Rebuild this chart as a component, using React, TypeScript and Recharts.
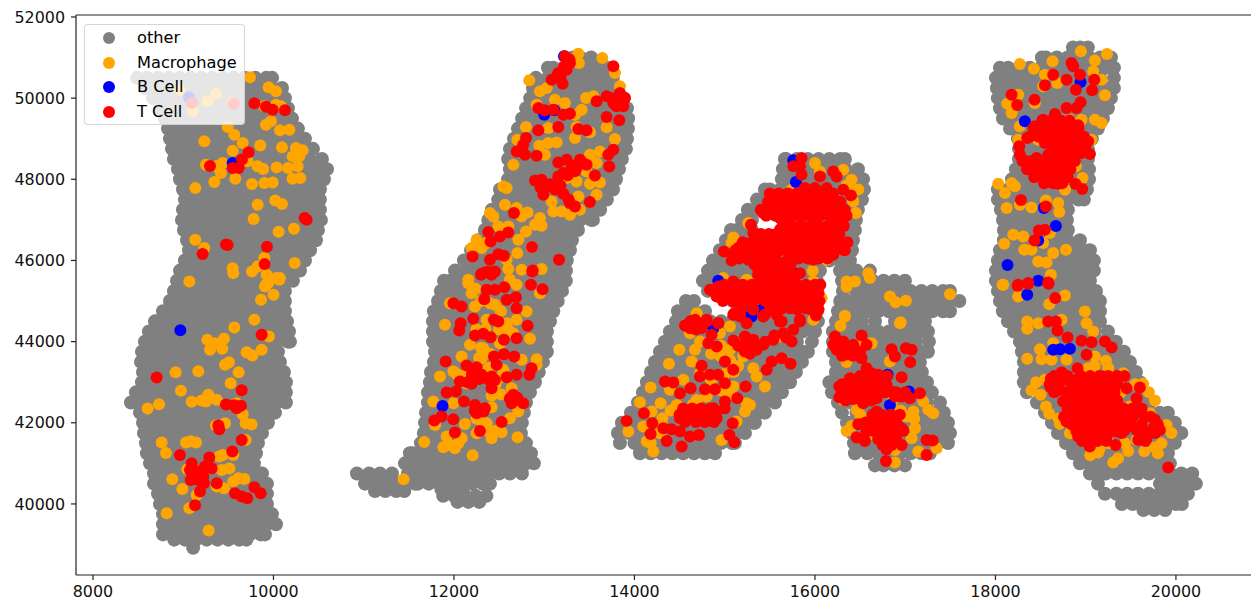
import React from "react";
import { ScatterChart, Scatter, XAxis, YAxis, ReferenceLine, Legend } from "recharts";

const xTicks = [8000, 10000, 12000, 14000, 16000, 18000, 20000];
const yTicks = [40000, 42000, 44000, 46000, 48000, 50000, 52000];

// each row: y, then the x of the cells read along that row
const otherLeftTissue = [
[50500,8490,8600,8720,8840,8960,9080,9200,9320,9440,9560,9680,9800,9920,9985],
[50250,8575,8660,8780,8900,9020,9140,9260,9380,9500,9620,9740,9860,9980,10095],
[50000,8665,8720,8840,8960,9080,9200,9320,9440,9560,9680,9800,9920,10040,10127],
[49750,8742,8780,8900,9020,9140,9260,9380,9500,9620,9740,9860,9980,10100,10160],
[49500,8798,8840,8960,9080,9200,9320,9440,9560,9680,9800,9920,10040,10160,10205],
[49250,8831,8900,9020,9140,9260,9380,9500,9620,9740,9860,9980,10100,10220,10271],
[49000,8853,8960,9080,9200,9320,9440,9560,9680,9800,9920,10040,10160,10280,10349],
[48750,8875,8900,9020,9140,9260,9380,9500,9620,9740,9860,9980,10100,10220,10340,10438],
[48500,8897,8960,9080,9200,9320,9440,9560,9680,9800,9920,10040,10160,10280,10400,10537],
[48250,8942,9020,9140,9260,9380,9500,9620,9740,9860,9980,10100,10220,10340,10460,10593],
[48000,8964,9080,9200,9320,9440,9560,9680,9800,9920,10040,10160,10280,10400,10520,10559],
[47750,8997,9020,9140,9260,9380,9500,9620,9740,9860,9980,10100,10220,10340,10460,10515],
[47500,9019,9080,9200,9320,9440,9560,9680,9800,9920,10040,10160,10280,10400,10515],
[47250,8997,9020,9140,9260,9380,9500,9620,9740,9860,9980,10100,10220,10340,10460,10515],
[47000,8986,9080,9200,9320,9440,9560,9680,9800,9920,10040,10160,10280,10400,10526],
[46750,9008,9020,9140,9260,9380,9500,9620,9740,9860,9980,10100,10220,10340,10460,10493],
[46500,9042,9080,9200,9320,9440,9560,9680,9800,9920,10040,10160,10280,10400,10471],
[46250,9064,9140,9260,9380,9500,9620,9740,9860,9980,10100,10220,10340,10405],
[46000,9019,9080,9200,9320,9440,9560,9680,9800,9920,10040,10160,10280,10349],
[45750,8964,9020,9140,9260,9380,9500,9620,9740,9860,9980,10100,10220,10294],
[45500,8931,8960,9080,9200,9320,9440,9560,9680,9800,9920,10040,10160,10216],
[45250,8897,9020,9140,9260,9380,9500,9620,9740,9860,9980,10100,10127],
[45000,8853,8960,9080,9200,9320,9440,9560,9680,9800,9920,10040,10127],
[44750,8776,8900,9020,9140,9260,9380,9500,9620,9740,9860,9980,10100,10127],
[44500,8687,8720,8840,8960,9080,9200,9320,9440,9560,9680,9800,9920,10040,10150],
[44250,8620,8660,8780,8900,9020,9140,9260,9380,9500,9620,9740,9860,9980,10100,10172],
[44000,8576,8600,8720,8840,8960,9080,9200,9320,9440,9560,9680,9800,9920,10040,10160,10183],
[43750,8543,8660,8780,8900,9020,9140,9260,9380,9500,9620,9740,9860,9980,10050],
[43500,8532,8600,8720,8840,8960,9080,9200,9320,9440,9560,9680,9800,9920,10040,10072],
[43250,8554,8660,8780,8900,9020,9140,9260,9380,9500,9620,9740,9860,9980,10100,10116],
[43000,8543,8600,8720,8840,8960,9080,9200,9320,9440,9560,9680,9800,9920,10040,10138],
[42750,8476,8540,8660,8780,8900,9020,9140,9260,9380,9500,9620,9740,9860,9980,10100,10138],
[42500,8421,8480,8600,8720,8840,8960,9080,9200,9320,9440,9560,9680,9800,9920,10040,10138],
[42250,8521,8660,8780,8900,9020,9140,9260,9380,9500,9620,9740,9860,9980,10017],
[42000,8554,8600,8720,8840,8960,9080,9200,9320,9440,9560,9680,9800,9920,9939],
[41750,8565,8660,8780,8900,9020,9140,9260,9380,9500,9620,9740,9860,9873],
[41500,8587,8720,8840,8960,9080,9200,9320,9440,9560,9680,9800,9828],
[41250,8598,8660,8780,8900,9020,9140,9260,9380,9500,9620,9740,9806],
[41000,8632,8720,8840,8960,9080,9200,9320,9440,9560,9680,9784],
[40750,8676,8780,8900,9020,9140,9260,9380,9500,9620,9740,9860,9873],
[40500,8676,8720,8840,8960,9080,9200,9320,9440,9560,9680,9800,9928],
[40250,8720,8780,8900,9020,9140,9260,9380,9500,9620,9740,9860,9928],
[40000,8742,8840,8960,9080,9200,9320,9440,9560,9680,9800,9928],
[39750,8776,8900,9020,9140,9260,9380,9500,9620,9740,9860,9983],
[39500,8776,8840,8960,9080,9200,9320,9440,9560,9680,9800,9920,10028],
[39250,8776,8900,9020,9140,9260,9380,9500,9620,9740,9860,9906],
[39120,8900,9020,9140,9260,9380,9500,9620,9700],
[38920,9110],
];

const otherSecondTissue = [
[51000,13318,13400,13520],
[50750,13041,13100,13220,13340,13460,13580,13700],
[50500,12908,13040,13160,13280,13400,13520,13640,13760],
[50250,12875,12980,13100,13220,13340,13460,13580,13700,13820],
[50000,12845,12920,13040,13160,13280,13400,13520,13640,13760,13880],
[49750,12800,12860,12980,13100,13220,13340,13460,13580,13700,13820,13917],
[49500,12755,12800,12920,13040,13160,13280,13400,13520,13640,13760,13880,13930],
[49250,12709,12740,12860,12980,13100,13220,13340,13460,13580,13700,13820,13928],
[49000,12665,12680,12800,12920,13040,13160,13280,13400,13520,13640,13760,13880,13917],
[48750,12620,12740,12860,12980,13100,13220,13340,13460,13580,13700,13820,13906],
[48500,12600,12680,12800,12920,13040,13160,13280,13400,13520,13640,13760,13861],
[48250,12620,12740,12860,12980,13100,13220,13340,13460,13580,13700,13828],
[48000,12600,12680,12800,12920,13040,13160,13280,13400,13520,13640,13760,13795],
[47750,12510,12620,12740,12860,12980,13100,13220,13340,13460,13580,13700,13762],
[47500,12490,12560,12680,12800,12920,13040,13160,13280,13400,13520,13640,13695],
[47250,12420,12500,12620,12740,12860,12980,13100,13220,13340,13460,13580,13620],
[47000,12380,12440,12560,12680,12800,12920,13040,13160,13280,13400,13520,13540],
[46750,12343,12380,12500,12620,12740,12860,12980,13100,13220,13340,13374],
[46500,12265,12320,12440,12560,12680,12800,12920,13040,13160,13280,13307],
[46250,12190,12260,12380,12500,12620,12740,12860,12980,13100,13220,13285],
[46000,12110,12200,12320,12440,12560,12680,12800,12920,13040,13160,13250],
[45750,12011,12140,12260,12380,12500,12620,12740,12860,12980,13100,13220,13241],
[45500,11890,11960,12080,12200,12320,12440,12560,12680,12800,12920,13040,13160,13240],
[45250,11855,11900,12020,12140,12260,12380,12500,12620,12740,12860,12980,13100,13197],
[45000,11823,11840,11960,12080,12200,12320,12440,12560,12680,12800,12920,13040,13150],
[44750,11778,11900,12020,12140,12260,12380,12500,12620,12740,12860,12980,13100],
[44500,11767,11840,11960,12080,12200,12320,12440,12560,12680,12800,12920,13040,13064],
[44250,11767,11900,12020,12140,12260,12380,12500,12620,12740,12860,12980,13030],
[44000,11767,11840,11960,12080,12200,12320,12440,12560,12680,12800,12920,13030],
[43750,11789,11900,12020,12140,12260,12380,12500,12620,12740,12860,12980,13030],
[43500,11778,11840,11960,12080,12200,12320,12440,12560,12680,12800,12920,12986],
[43250,11745,11780,11900,12020,12140,12260,12380,12500,12620,12740,12860,12940],
[43000,11734,11840,11960,12080,12200,12320,12440,12560,12680,12800,12897],
[42750,11712,11780,11900,12020,12140,12260,12380,12500,12620,12740,12842],
[42500,11712,11840,11960,12080,12200,12320,12440,12560,12680,12798],
[42250,11690,11780,11900,12020,12140,12260,12380,12500,12620,12740,12775],
[42000,11679,11720,11840,11960,12080,12200,12320,12440,12560,12680,12753],
[41750,11667,11780,11900,12020,12140,12260,12380,12500,12620,12742],
[41500,11634,11720,11840,11960,12080,12200,12320,12440,12560,12680,12798],
[41250,11512,11540,11660,11780,11900,12020,12140,12260,12380,12500,12620,12740,12853],
[41000,11457,11480,11600,11720,11840,11960,12080,12200,12320,12440,12560,12680,12800,12886],
[40750,10925,11060,11180,11313,11490,11540,11660,11780,11900,12020,12140,12260,12380,12500,12620,12753],
[40500,11014,11120,11240,11360,11435,11568,11600,11720,11840,11960,12080,12200,12320,12399],
[40320,11125,11240,11360,11450],
[40370,11860,11980,12100],
[40200,11880,12000,12120,12240,12360],
[40050,12040,12160,12280],
];

const otherThirdTissue = [
[48500,15667,15680,15800,15920,16040,16160,16280,16332],
[48250,15645,15740,15860,15980,16100,16220,16340,16476],
[48000,15634,15680,15800,15920,16040,16160,16280,16400,16532],
[47750,15446,15500,15620,15740,15860,15980,16100,16220,16340,16460,16543],
[47500,15357,15440,15560,15680,15800,15920,16040,16160,16280,16400,16521],
[47250,15257,15380,15500,15620,15740,15860,15980,16100,16220,16340,16476],
[47000,15191,15302,15656,15680,15800,15920,16040,16160,16280,16400,16454],
[46750,15069,15140,15260,15302,15656,15740,15860,15980,16100,16220,16340,16443],
[46500,15014,15080,15200,15320,15440,15560,15680,15800,15920,16040,16160,16280,16421],
[46250,14947,15020,15140,15260,15380,15500,15620,15740,15860,15980,16100,16220,16340,16410],
[46000,14870,14960,15080,15200,15320,15440,15560,15680,15800,15920,16040,16160,16280,16388],
[45750,14814,14900,15020,15140,15260,15380,15500,15620,15740,15860,15980,16055,16277,16340,16460,16609],
[45500,14759,14840,14960,15080,15200,15320,15440,15560,15680,15800,15920,16022,16299,16400,16520,16640,16760,16880,16997],
[45250,14814,14900,15020,15140,15260,15380,15500,15620,15740,15860,15980,16000,16310,16460,16580,16700,16820,16940,17060,17180,17300,17420,17496],
[45000,14570,14660,15091,15200,15320,15440,15560,15680,15800,15920,16033,16280,16400,16520,16640,16760,16880,17000,17120,17240,17360,17480,17600],
[44750,14482,14540,14660,14781,15147,15260,15380,15500,15620,15740,15860,15980,16022,16255,16340,16460,16580,16700,16820,16940,17060,17180,17300,17420,17496],
[44500,14460,14600,14720,14840,14960,15080,15200,15320,15440,15560,15680,15800,15920,16033,16233,16280,16400,16520,16665,16887,17000,17120,17219],
[44250,14393,14420,14540,14660,14780,14900,15020,15140,15260,15380,15500,15620,15740,15860,15980,16000,16199,16340,16460,16580,16700,16820,16940,17060,17180,17252],
[44000,14338,14360,14480,14600,14720,14840,14960,15080,15200,15320,15440,15560,15680,15800,15967,16199,16280,16400,16520,16640,16760,16880,17000,17120,17263],
[43750,14282,14420,14540,14660,14780,14900,15020,15140,15260,15380,15500,15620,15740,15860,15922,16199,16340,16460,16580,16700,16820,16940,17060,17180,17252],
[43500,14227,14360,14480,14600,14720,14840,14960,15080,15200,15320,15440,15560,15680,15800,15856,16232,16280,16400,16520,16640,16760,16880,17000,17120,17163],
[43250,14183,14300,14420,14540,14660,14780,14900,15020,15140,15260,15380,15500,15620,15740,15789,16232,16340,16460,16580,16700,16820,16940,17060,17185],
[43000,14138,14240,14360,14480,14600,14720,14840,14960,15080,15200,15320,15440,15560,15680,15723,16160,16280,16400,16520,16640,16760,16880,17000,17120,17241],
[42750,14094,14180,14300,14420,14540,14660,14780,14900,15020,15140,15260,15380,15500,15620,15634,16188,16340,16460,16580,16700,16820,16940,17060,17180,17296],
[42500,14039,14120,14240,14360,14480,14600,14720,14840,14960,15080,15200,15320,15440,15557,16255,16400,16520,16640,16760,16880,17000,17120,17240,17385],
[42250,13961,14060,14180,14300,14420,14540,14660,14780,14900,15020,15140,15260,15380,15446,16299,16460,16580,16700,16820,16940,17060,17180,17300,17429],
[42000,13861,14000,14120,14240,14360,14480,14600,14720,14840,14960,15080,15200,15320,15335,16354,16400,16520,16640,16760,16880,17000,17120,17240,17360,17474],
[41750,13817,13940,14060,14180,14300,14420,14540,14660,14780,14900,15020,15140,15224,16410,16460,16580,16700,16820,16940,17060,17180,17300,17420,17496],
[41500,13839,14000,14120,14240,14360,14480,14600,14720,14840,14960,15080,15113,16432,16520,16640,16760,16880,17000,17120,17240,17360,17474],
[41250,14061,14180,14300,14420,14540,14660,14780,14892,16443,16580,16700,16820,16940,17060,17180,17274],
[40950,16665,16760,16880,16997],
];

const otherFourthTissue = [
[51250,18859,18940,19024],
[51000,18515,18560,18680,18800,18920,19040,19160,19280],
[50750,18050,18140,18260,18380,18500,18620,18740,18860,18980,19100,19220,19313],
[50500,18005,18080,18200,18320,18440,18560,18680,18800,18920,19040,19160,19313],
[50250,18016,18140,18260,18380,18500,18620,18740,18860,18980,19100,19220,19313],
[50000,18027,18080,18200,18320,18440,18560,18680,18800,18920,19040,19160,19279],
[49750,18050,18140,18260,18380,18500,18620,18740,18860,18980,19100,19220,19246],
[49500,18083,18200,18320,18440,18560,18680,18800,18920,19040,19160,19191],
[49250,18161,18260,18380,18500,18620,18740,18860,18980,19100,19135],
[49000,18249,18320,18440,18560,18680,18800,18920,19040,19069],
[48750,18260,18380,18500,18620,18740,18860,18980,19025],
[48500,18260,18320,18440,18560,18680,18800,18920,19025],
[48250,18227,18380,18500,18620,18740,18860,18980,19036],
[48000,18183,18200,18320,18440,18560,18680,18800,18920,19036],
[47750,18027,18140,18260,18380,18500,18620,18740,18860,18980,19014],
[47500,18027,18080,18200,18320,18440,18560,18680,18800,18920,18980],
[47250,18060,18140,18260,18380,18500,18620,18740,18803],
[47000,18083,18200,18320,18440,18560,18680,18792],
[46750,18094,18140,18260,18380,18500,18620,18740,18803],
[46500,18094,18200,18320,18440,18560,18680,18800,18936],
[46250,18050,18140,18260,18380,18500,18620,18740,18860,18980,19047],
[46000,18027,18080,18200,18320,18440,18560,18680,18800,18920,19040,19091],
[45750,18005,18140,18260,18380,18500,18620,18740,18860,18980,19091],
[45500,18005,18080,18200,18320,18440,18560,18680,18800,18920,19047],
[45250,18027,18140,18260,18380,18500,18620,18740,18860,18980,19114],
[45000,18050,18080,18200,18320,18440,18560,18680,18800,18920,19040,19158],
[44750,18083,18140,18260,18380,18500,18620,18740,18860,18980,19100,19158],
[44500,18138,18200,18320,18440,18560,18680,18800,18920,19040,19158],
[44250,18205,18260,18380,18500,18620,18740,18860,18980,19100,19246],
[44000,18271,18320,18440,18560,18680,18800,18920,19040,19160,19280,19335],
[43750,18293,18380,18500,18620,18740,18860,18980,19100,19220,19340,19424],
[43500,18315,18440,18560,18680,18800,18920,19040,19160,19280,19400,19490],
[43250,18315,18380,18500,18620,18740,18860,18980,19100,19220,19340,19460,19557],
[43000,18315,18440,18560,18680,18800,18920,19040,19160,19280,19400,19520,19601],
[42750,18349,18500,18620,18740,18860,18980,19100,19220,19340,19460,19580,19634],
[42500,18460,18560,18680,18800,18920,19040,19160,19280,19400,19520,19640,19712],
[42250,18548,18620,18740,18860,18980,19100,19220,19340,19460,19580,19700,19820,19911],
[42000,18626,18680,18800,18920,19040,19160,19280,19400,19520,19640,19760,19880,19988],
[41750,18692,18740,18860,18980,19100,19220,19340,19460,19580,19700,19820,19940,20060],
[41500,18781,18800,18920,19040,19160,19280,19400,19520,19640,19760,19880,19988],
[41250,18859,18980,19100,19220,19340,19460,19580,19700,19820,19911],
[41000,18936,19040,19160,19280,19400,19520,19640,19760,19880,19933],
[40750,19047,19100,19220,19340,19460,19580,19700,19820,19940,20060,20180],
[40500,19136,19823,19880,20000,20120,20221],
[40250,19213,19340,19460,19580,19700,19820,19940,20060,20133],
[40000,19401,19520,19640,19760,19880,20000,20066],
[39850,19640,19760,19880],
];

const macrophageLeft = [
[9740,50513],[9947,50267],[10028,50168],[10028,49839],[9899,49798],[10083,49798],[8964,50209],[9105,49675],[9271,49921],[9363,50110],[9548,49880],[9492,49289],[9566,49099],[9659,48894],[9234,48935],[9548,48705],[9854,48836],[10094,48787],[10249,48771],[10323,48713],[10212,48565],[10286,48565],[9917,49346],[9972,49428],[10072,49206],[10176,49223],[9714,48442],[9437,48401],[9363,48319],[9252,48360],[9418,48154],[9345,47932],[9577,48014],[9762,47883],[9825,48319],[9887,48253],[10035,48294],[10161,48278],[10268,48319],[10212,48014],[10297,48031],[9899,47908],[9991,47924],[9134,47784],[10020,47480],[10094,47390],[9825,47373],[9780,47020],[10057,46708],[10227,46782],[9134,46510],[9234,46305],[9899,46058],[9548,45811],[9555,45688],[9762,45729],[9825,45853],[10235,45935],[9924,45647],[10028,45565],[10072,45565],[9068,45483],[9917,45400],
[9906,45360],[9943,45442],[10000,45154],[9862,45031],[10065,45524],[9788,44538],[9566,44349],[9950,44127],[9267,44044],[9452,44069],[9352,43962],[9297,43798],[9433,43822],[9869,43798],[9703,43740],[9766,43658],[9463,43428],[9507,43494],[9614,43247],[8916,43247],[9167,43272],[9526,42976],[8975,42787],[9094,42516],[9204,42548],[9278,42688],[9252,42524],[9371,42565],[8732,42458],[8606,42351],[9592,42483],[9659,42211],[9692,41989],[9758,41957],[9463,41989],[9363,41932],[8761,41512],[9031,41512],[9083,41545],[9142,41512],[8809,41258],[9692,41578],[9555,41208],[9400,41167],[9437,41208],[9046,40855],[9426,40839],[9511,40871],[8879,40608],[8990,40370],[9149,40222],[9371,40428],[9452,40387],[9555,40551],[9611,40633],[9677,40617],[9068,39893],[8817,39770],[9282,39343],
];

const macrophageSecond = [
[13378,51097],[13385,50867],[13644,50990],[13784,50620],[12835,50439],[12953,50168],[13027,50250],[13119,49962],[13230,49880],[13463,50003],[13544,50045],[13839,50291],[12916,49839],[13415,49716],[13341,49592],[12798,49288],[12702,48976],[13045,49264],[13138,48910],[13045,48894],[12946,48828],[13008,48606],[12658,48359],[13784,48992],[13692,49280],[13359,49288],[13341,49017],[13507,49157],[13618,48688],[13507,48606],[13581,48401],[13470,48195],[13359,47948],[13249,48031],[13507,47891],[13618,47924],[13378,47579],[13581,47620],[12547,47825],[12584,47784],[13082,47455],[13101,47209],[13193,47209],[13285,47127],[13396,47250],[12565,47373],[12399,47168],[12436,47085],[12695,47291],[12816,47184],[12750,47085],[12953,47044],[12971,46855],[12898,46880],[12798,46716],[12713,46510],[12602,46839],[12491,46839],[12251,46510],[12196,46305],[12307,46305],[12362,46428],[12702,46181],[12584,46017],[12602,45787],[12750,45770],[12971,45787],[12159,45524],[12861,46329],
[12159,45441],[12196,45195],[12233,44866],[12399,44948],[12620,45523],[12694,45400],[12953,45195],[11956,44948],[11900,44414],[12362,44537],[12584,44455],[12694,44537],[12805,44742],[12657,44208],[12842,44068],[12177,43920],[12325,43838],[12306,43592],[12085,43633],[12750,43551],[12916,43567],[11845,43140],[11993,43263],[12916,43427],[12547,43304],[12639,42852],[12417,42663],[11771,42523],[11993,42482],[12417,42383],[12713,42276],[12620,42112],[12122,41972],[12362,41989],[11919,41660],[12085,41619],[12417,41619],[12528,41767],[12705,41644],[11671,41528],[11882,41397],[12011,41372],[12207,41200],[11442,40608],[12251,41742],[11790,41948],[12140,42975],[12510,43962],
[12240,45300],[12300,45000],[12460,44900],[12520,44750],[12250,44300],[12350,44300],[12500,44300],[12600,44300],[12300,43850],[12400,43700],[12280,43600],[12380,43350],[12150,43250],[12030,43200],[12500,43100],[12460,42950],[12520,42700],[12250,42100],[12320,42000],[12380,41800],[12450,41800],[12050,41500],[11950,41450],
];

const macrophageThird = [
[16000,48401],[16055,48195],[16314,48236],[16406,47990],[15741,47743],[15797,47620],[16425,47456],[16454,47168],[15427,47250],[15261,46921],[15095,46568],[15077,46428],[15409,46469],[16351,45483],[16443,45483],[16591,45688],[16609,45565],[16831,45113],[16894,44973],[17008,45006],[17496,45170],[16332,44620],[16949,44480],[15974,45746],[15981,45483],[15243,45524],[14984,45565],[14689,44702],[16074,45072],[16129,46017],
[15058,44373],[14615,44208],[14947,44208],[14726,44003],[14497,43797],[14670,43797],[14382,43452],[14634,43510],[15058,43797],[15206,43633],[15317,43345],[14726,43222],[14541,43058],[15354,43140],[15446,42893],[14179,42869],[14394,42811],[15095,42893],[14061,42507],[14290,42482],[14190,42277],[14689,42564],[14467,42441],[14309,42112],[14098,41907],[13932,41784],[15243,42482],[15280,42441],[15224,42277],[15132,42030],[14135,41537],[14209,41290],[14966,41578],[15354,44866],[15982,44537],[16332,44636],[16284,44389],[16942,44455],[16628,43962],[16831,43510],[16406,41923],[17311,42236],[17256,42318],[17200,42523],[17090,42277],[17016,42153],[17108,41866],[17071,41619],[17348,41373],[17145,41290],[16886,41019],[16886,41331],[16665,41701],[16314,42564],[16462,42318],[16720,42811],[16572,42564],[14283,41742],[15612,44126],
[14960,43900],[14850,43700],[14950,43650],[15060,43550],[15150,43400],[15100,43250],[15000,43200],[14850,43050],[14950,42800],[14800,42650],[15050,42700],[14650,42450],[14400,42300],[14300,41950],[14180,41500],[16500,43900],[16350,43500],[16700,43050],[16850,42500],[16950,42300],[17100,42100],[16500,42200],[16350,41800],[16400,47700],[16480,47750],[16350,47850],[16350,45350],
];

const macrophageFourth = [
[18947,51155],[19235,51089],[18271,50842],[18426,50727],[18633,50908],[19102,50925],[19083,50662],[19176,50456],[18548,50579],[18685,50374],[19213,50070],[18529,50292],[18131,49864],[18252,50086],[18179,49634],[18271,49305],[18437,49881],[18954,49470],[19102,49470],[19176,49387],[18825,49470],[18252,48976],[18474,48976],[19065,48976],[18891,48319],[18965,48031],[18770,47743],[18031,47891],[18179,47908],[18105,47661],[18216,47826],[18123,47291],[18400,47308],[18271,47374],[18559,47480],[18696,47415],[18707,47193],[18197,46634],[18308,46593],[18097,46412],[18319,46264],[18400,46264],[18640,46182],[18781,46264],[18474,45976],[18566,45951],[18614,45647],[18079,45401],[18603,46675],[18529,46428],
[18086,45401],[18252,45113],[18596,44924],[18770,45138],[18991,44743],[18352,44497],[18352,44316],[18474,44455],[18733,44538],[19010,44455],[19083,44250],[18493,43814],[18352,43576],[18511,43568],[18621,43551],[18788,43551],[19102,43633],[19224,43527],[18640,43962],[19028,43346],[18500,42688],[18548,43058],[18596,42220],[18714,41973],[18825,41743],[19139,41266],[19305,41019],[19360,41126],[19471,41307],[19840,41496],[19767,42548],[19637,42959],[19416,43222],[19896,41948],[19250,41496],[19434,41496],[19564,41578],[19767,41389],[18788,43058],[19379,42729],[19490,42400],[19711,42236],[18936,43305],
[19100,43400],[19250,43350],[19400,43150],[19550,42950],[19700,42750],[18560,42400],[18700,42100],[19050,41200],[19150,41350],[19650,41300],[19950,41750],[19800,41250],[18450,43000],[18400,42800],
];

const bCells = [
[9064,50020],[9548,48401],[8968,44283],[13219,51031],[13000,49592],[13112,49699],[11874,42416],
[15760,48467],[15789,47932],[15797,45664],[14929,45499],[15427,46387],[15280,44620],[15409,44784],[14874,44332],[15298,44619],[15420,44784],[16805,43181],[17041,42770],[16831,42441],
[18943,50398],[18326,49428],[18537,47291],[18670,46847],[18474,46494],[18134,45886],[18474,45499],[18352,45154],[18640,43798],[18714,43814],[18825,43822],[19028,42524],[19545,42318],[19231,41866],
];

const tCellsLeft = [
[9788,49872],[9917,49790],[9991,49716],[10127,49700],[9297,48327],[9725,48664],[9651,48491],[9548,48278],[9614,48278],[9097,49880],[9559,49864],[10345,47045],[10368,47003],[9492,46379],[9474,46395],[9928,46338],[9215,46157],[9902,45910],
[9869,44168],[8706,43116],[9648,42803],[9474,42450],[9566,42433],[9592,42359],[9640,42417],[9389,41932],[9400,41841],[9648,41578],[9544,41291],[8964,41208],[9289,41143],[9094,41003],[9075,40839],[9149,40797],[9241,40921],[9315,40880],[9131,40674],[9223,40674],[9083,40592],[9230,40510],[9371,40510],[9186,40304],[9574,40263],[9648,40181],[9710,40140],[9788,40411],[9858,40263],[9131,39967],[9204,40797],[9167,40592],
];

const tCellsSecond = [
[13230,51031],[13285,50867],[13249,50702],[13156,50620],[13082,50456],[13204,50357],[13766,50784],[13839,50127],[13692,50045],[13581,49921],[13766,49880],[13876,49798],[13895,50003],[12935,49757],[13008,49699],[13101,49716],[13212,49592],[13285,49617],[13692,49535],[13832,49453],[13156,49288],[12935,49206],[13378,49239],[13470,49206],[12798,49017],[12768,48853],[12695,48688],[12787,48606],[12916,48581],[13766,48729],[13710,48606],[13721,48318],[13562,48096],[13156,48417],[13249,48483],[13396,48483],[13470,48359],[13304,48277],[13212,48154],[13156,48072],[12898,47973],[12971,47990],[13045,47825],[12990,47620],[13138,47907],[13212,47644],[13285,47414],[13341,47332],[13507,47439],[12665,47168],[12381,46699],[12406,46469],[12510,46592],[12602,46691],[12207,46099],[12399,46017],[12491,46156],[12554,46115],[12864,46329],[13164,46017],[12872,45754],[12307,45672],[12399,45688],[12454,45729],[13359,48277],[13322,48335],
[12325,45688],[12417,45647],[12868,45729],[12362,45277],[12454,45277],[12558,45343],[12853,45400],[12982,45293],[12336,45047],[12584,45030],[12687,45096],[12694,44825],[11993,44948],[12085,44866],[12214,44562],[12443,44537],[12491,44496],[12074,44455],[12059,44274],[12816,44389],[12233,44151],[12325,44192],[12406,44110],[12554,44044],[12694,44085],[12443,43633],[12554,43690],[12668,43633],[12473,43427],[11908,43510],[12140,43411],[12251,43370],[12860,43345],[12835,43181],[12694,43181],[12584,43123],[12196,43098],[12306,43181],[12417,43140],[12454,43057],[12066,43016],[12196,42959],[12417,42852],[11919,42745],[12022,42770],[12111,42523],[12657,42688],[12694,42564],[12768,42482],[12639,42482],[12233,42441],[12251,42235],[12325,42276],[12343,42359],[11863,42153],[11782,42055],[11993,42087],[12528,42022],[12011,41759],[12288,41800],
[13060,47880],[13120,47750],[13180,47850],[13260,48100],[13340,48200],[13420,48420],[12960,47800],[13270,47500],[12750,48750],[13850,49950],[13750,50000],[13800,49800],[13180,50500],[13140,50520],[13280,50950],[13220,50780],[12200,43200],[12280,43080],[12380,43070],[12150,43000],[12230,42300],[12290,42330],[12700,42620],[12620,42600],[12300,45650],[12370,45720],[12440,45720],
];

const tCellsThird = [
[15852,48524],[15760,48319],[15834,48319],[15852,48113],[16203,48195],[16240,48072],[16055,48072],[15889,47784],[16000,47784],[16129,47784],[16314,47743],[16399,47604],[16240,47456],[15557,47579],[15668,47415],[15427,47168],[15557,47291],[15723,47250],[15834,47373],[15981,47456],[16111,47373],[16277,47250],[16184,47168],[15612,47045],[15723,47004],[15852,47086],[16000,47004],[16203,47086],[16295,46880],[15291,46880],[15612,46757],[15723,46716],[15871,46798],[16018,46798],[16129,46634],[16240,46387],[16314,46264],[15317,46675],[15427,46551],[15538,46634],[15649,46469],[15797,46469],[15926,46510],[16092,46346],[16203,46140],[15981,46017],[15520,46017],[15668,45960],[15243,46387],[15354,46305],[15150,46305],[15095,46181],[14992,46223],[15077,46001],[15446,46223],[15594,46305],[15723,46305],[15871,46305],[15261,46017],[15834,45688],[15372,45770],[15501,45729],[15649,45688],[15409,45524],[15575,45483],[15095,45483],[14929,45360],[14837,45277],[14984,45236],[15077,45154],[15206,45236],[15335,45318],[15501,45318],[15668,45401],[15871,45318],[16018,45195],[14910,45113],[15095,44990],[15243,45031],[15391,45072],[15538,45113],[15704,45113],[15871,45072],[16018,44907],[15169,44620],[15317,44784],[15446,44661],[15575,44661],[15723,44825],[15889,44825],[16011,44644],[14800,44538],[14929,44455],[15095,44661],[15631,44496],[15834,44496],[15612,44990],[15760,44948],[15280,44907],[15501,46387],[15834,46716],[16055,46469],[16166,46387],[16092,46140],[15723,46099],
[14671,44537],[14615,44332],[14800,44496],[14929,44455],[14855,44167],[14818,43962],[14911,43880],[15095,44028],[15224,44126],[15317,44044],[15428,43921],[15538,44044],[15649,44208],[15760,44291],[15742,44003],[15224,43756],[15354,43797],[15465,43304],[15520,43510],[15631,43592],[15730,43452],[15003,43510],[15095,43304],[14744,43403],[14726,43140],[14837,43181],[14929,43181],[15003,42975],[14781,42827],[14892,42827],[14338,43016],[14430,42992],[14504,42729],[14622,42852],[15232,42893],[15139,42605],[15003,42523],[14874,42359],[14763,42277],[14652,42236],[14541,42195],[14504,42112],[14634,42112],[14800,42071],[14911,42112],[14105,42236],[13913,42047],[14198,41989],[15088,41989],[14320,41866],[14412,41841],[14504,41784],[14615,41660],[14715,41701],[14179,41726],[14357,41553],[14523,41414],[15051,41701],[15106,41520],[15243,44455],[15428,44619],[15612,44496],[15834,44537],[15169,44660],[15106,44702],
[16222,44126],[16203,43921],[16314,44003],[16425,43921],[16332,43674],[16517,44151],[16572,43921],[16517,43592],[16849,43814],[16886,43633],[17008,43838],[17071,43797],[17056,43493],[16572,43345],[16628,43222],[16388,43099],[16535,43058],[16702,43181],[16960,43123],[16270,42893],[16406,42852],[16535,42852],[16794,42934],[16270,42630],[16425,42589],[16535,42482],[16683,42605],[16886,42647],[16960,42647],[17052,42605],[17163,42729],[16683,42277],[16757,42112],[16831,41907],[16960,41866],[16480,41964],[16561,42005],[16462,41636],[16554,41553],[16572,41784],[16775,41743],[16868,41701],[16960,41455],[16794,41348],[17237,41578],[17304,41562],[17237,41208],[16787,41060],[16849,42770],[16794,41989],[16868,41989],[16757,41660],
];

// the solid red patches of the third tissue
const tCellsThirdPatches = [
[15500,47650],[15600,47650],[15700,47650],[15800,47650],[15900,47650],[16000,47650],[16100,47650],[16200,47650],
[15480,47450],[15570,47450],[15670,47450],[15770,47450],[15870,47450],[15970,47450],[16070,47450],[16170,47450],[16280,47450],
[15400,47250],[15490,47250],[15590,47250],[15690,47250],[15790,47250],[15890,47250],[15990,47250],[16090,47250],[16190,47250],[16330,47250],
[15460,47100],[15560,47100],[15660,47100],[15760,47100],[15860,47100],[15960,47100],[16060,47100],[16160,47100],[16260,47100],[16350,47100],
[15640,46850],[15740,46850],[15840,46850],[15940,46850],[16040,46850],[16140,46850],[16240,46850],[16320,46850],
[15400,46650],[15490,46650],[15590,46650],[15680,46650],[15780,46650],[15880,46650],[15980,46650],[16070,46650],[16170,46650],[16270,46650],
[15200,46450],[15300,46450],[15400,46450],[15500,46450],[15600,46450],[15700,46450],[15800,46450],[15900,46450],[16000,46450],[16100,46450],[16200,46450],[16300,46450],[16360,46450],
[15120,46250],[15220,46250],[15320,46250],[15420,46250],[15520,46250],[15620,46250],[15720,46250],[15820,46250],[15920,46250],[16020,46250],[16120,46250],[16220,46250],[16330,46250],
[15160,46050],[15260,46050],[15360,46050],[15460,46050],[15560,46050],[15820,46050],[15920,46050],[16040,46050],[16140,46050],
[15330,45900],[15430,45900],[15530,45900],[15630,45900],[15730,45900],
[15370,45650],[15470,45650],[15570,45650],[15670,45650],[15760,45650],
[15000,45400],[15100,45400],[15200,45400],[15300,45400],[15400,45400],[15500,45400],[15600,45400],[15700,45400],[15800,45400],[15900,45400],[16000,45400],[16060,45400],
[14900,45200],[15000,45200],[15120,45200],[15220,45200],[15320,45200],[15420,45200],[15520,45200],[15620,45200],[15720,45200],[15820,45200],[15920,45200],[16040,45200],
[14980,45000],[15170,45000],[15320,45000],[15450,45000],[15570,45000],[15690,45000],[15810,45000],[15930,45000],[16050,45000],
[15180,44800],[15500,44800],[15620,44800],[15800,44800],[15950,44800],[16040,44800],
[14540,42350],[14640,42350],[14740,42350],[14840,42350],[15000,42350],[14500,42200],[14600,42200],[14700,42200],[14800,42200],[14900,42200],[14560,42020],[14680,42020],[14780,42020],[14880,42020],
[15150,43900],[15250,43950],[15330,43850],[15450,44000],[15550,44150],[15680,44100],[15280,43700],[14620,44500],[14700,44450],[14680,44300],[14560,44400],[14740,44330],
[16240,43800],[16330,43850],[16430,43800],[16500,43750],[16300,43650],[16420,43650],
[16500,43150],[16600,43150],[16700,43150],[16800,43150],[16300,42950],[16400,42950],[16500,42950],[16620,42950],[16720,42950],[16300,42750],[16420,42750],[16540,42750],[16660,42750],[16780,42750],[16900,42750],[17000,42750],[16340,42550],[16520,42550],[16620,42550],
[16640,42200],[16740,42200],[16840,42200],[16940,42200],[16640,42000],[16720,42000],[16900,42000],[16650,41800],[16700,41800],[16800,41800],[16900,41800],[16980,41800],[16700,41600],[16800,41600],[16900,41600],[16750,41450],[16850,41450],
];

const tCellsFourth = [
[18179,50086],[18241,49831],[18433,49963],[18548,50316],[18640,50579],[18843,50867],[18788,50456],[18936,50579],[18891,50209],[19095,50456],[19072,50193],[18943,49897],[18899,49757],[18788,49757],[18659,49609],[18529,49470],[18437,49305],[18603,49387],[18751,49305],[18917,49330],[18352,49017],[18511,49141],[18677,49141],[18899,49017],[19028,48935],[19047,48623],[18936,48812],[18825,48853],[18264,48812],[18271,48606],[18345,48442],[18456,48524],[18585,48606],[18733,48771],[18548,48894],[18659,48976],[18419,48195],[18548,48236],[18677,48319],[18770,48195],[18585,47949],[18696,47891],[18888,47883],[18962,47760],[18282,47488],[18559,47332],[18548,46757],[18481,46741],[18433,46494],[18245,45376],[18363,45442],[18585,45458],[18862,50785],[18511,48401],[18640,48072],
[18252,45401],[18363,45425],[18589,45425],[18662,45072],[18585,44497],[18670,44497],[18688,44275],[18799,44102],[18954,44020],[19065,43987],[19213,44003],[19287,43855],[19010,43674],[18910,43346],[18733,43239],[18614,43083],[18614,42877],[18770,43058],[18714,42811],[18899,43058],[19046,43058],[19194,43099],[19342,43140],[19453,42852],[19600,42869],[19564,42606],[18751,42524],[18899,42729],[19046,42811],[19194,42811],[19305,42524],[18825,42236],[18788,42030],[18973,42400],[19120,42524],[19268,42236],[18973,42071],[19120,42154],[19416,42236],[19600,42277],[19564,41825],[19767,42072],[19748,41866],[19822,41825],[19674,41620],[19582,41578],[18917,41661],[19065,41578],[19046,41414],[19331,41455],[19194,41907],[19342,41784],[19434,41825],[19914,40896],[18899,41784],[19342,41989],[19194,43140],[18973,42893],[19120,43058],[19268,42729],
];

// the solid red patches of the fourth tissue
const tCellsFourthPatches = [
[18520,49450],[18620,49450],[18720,49450],[18820,49450],
[18420,49250],[18520,49250],[18620,49250],[18720,49250],[18820,49250],[18920,49250],
[18380,49050],[18480,49050],[18580,49050],[18680,49050],[18780,49050],[18880,49050],[18980,49050],
[18620,48850],[18720,48850],[18820,48850],[18920,48850],[19000,48850],
[18660,48650],[18760,48650],[18850,48650],[18950,48650],
[18300,48450],[18400,48450],[18500,48450],[18600,48450],[18700,48450],[18800,48450],[18880,48450],
[18350,48250],[18450,48250],[18550,48250],[18650,48250],[18750,48250],[18830,48250],
[18430,48050],[18530,48050],[18620,48050],[18720,48050],[18800,48050],
[18540,47900],[18640,47900],[18740,47900],
[18650,43150],[18800,43150],[18950,43150],[19050,43150],[19150,43150],[19250,43150],[19350,43150],[19430,43150],
[18600,42950],[18700,42950],[18850,42950],[18950,42950],[19050,42950],[19150,42950],[19250,42950],[19350,42950],
[18650,42750],[18800,42750],[18960,42750],[19100,42750],[19220,42750],[19320,42750],
[18820,42550],[18920,42550],[19000,42550],[19080,42550],[19180,42550],[19260,42550],[19350,42550],
[18800,42350],[18880,42350],[18980,42350],[19060,42350],[19150,42350],[19240,42350],[19330,42350],[19420,42350],[19520,42350],[19620,42350],
[18760,42150],[18870,42150],[18960,42150],[19050,42150],[19140,42150],[19230,42150],[19320,42150],[19420,42150],[19520,42150],[19650,42150],[19720,42150],
[18850,41950],[18920,41950],[19010,41950],[19100,41950],[19200,41950],[19280,41950],[19400,41950],[19500,41950],[19620,41950],[19800,41950],
[18980,41750],[19080,41750],[19150,41750],[19250,41750],[19400,41750],[19620,41750],[19700,41750],[19770,41750],
[18960,41550],[19000,41550],[19130,41550],[19230,41550],[19660,41550],
];

const legendNames = ["other", "Macrophage", "B Cell", "T Cell"];
const legendColors = ["#808080", "#ffa500", "#0000ff", "#ff0000"];

const fromRows = (rows: number[][]) => rows.flatMap(([y, ...xs]) => xs.map((x) => ({ x, y })));
const fromPairs = (pairs: number[][]) => pairs.map(([x, y]) => ({ x, y }));

const otherData = [otherLeftTissue, otherSecondTissue, otherThirdTissue, otherFourthTissue].flatMap(fromRows);
const macrophageData = [macrophageLeft, macrophageSecond, macrophageThird, macrophageFourth].flatMap(fromPairs);
const bCellData = fromPairs(bCells);
const tCellData = [tCellsLeft, tCellsSecond, tCellsThird, tCellsThirdPatches, tCellsFourth, tCellsFourthPatches].flatMap(fromPairs);

const FONT = "'DejaVu Sans', sans-serif";

const dot = (fill: string, r: number) => (p: any) => <circle cx={p.cx} cy={p.cy} r={r} fill={fill} />;

const LegendBox = () => (
  <div
    style={{
      width: 161,
      height: 101,
      boxSizing: "border-box",
      background: "rgba(255,255,255,0.8)",
      border: "1.2px solid rgba(204,204,204,0.8)",
      borderRadius: 4,
      position: "relative",
      fontFamily: FONT,
      fontSize: 16.2,
      color: "#000",
    }}
  >
    {legendNames.map((name, i) => (
      <div key={name} style={{ position: "absolute", left: 0, top: 14 + i * 24.5 - 12, height: 24, lineHeight: "22px", whiteSpace: "nowrap" }}>
        <span style={{ position: "absolute", left: 18, top: 5, width: 12, height: 12, borderRadius: 6, background: legendColors[i] }} />
        <span style={{ position: "absolute", left: 52, top: 0 }}>{name}</span>
      </div>
    ))}
  </div>
);

export default function App() {
  const tick = { fontFamily: FONT, fontSize: 15.9, fill: "#111" };
  const line = { stroke: "#222", strokeWidth: 1.2 };
  return (
    <div style={{ position: "absolute", left: 0, top: 0, width: 1251, height: 603, overflow: "hidden", background: "#fff" }}>
      <ScatterChart width={1260} height={603} margin={{ top: 15, right: 5, bottom: 0, left: 0 }}>
        <XAxis type="number" dataKey="x" domain={[7812, 20876]} ticks={xTicks} allowDataOverflow height={28} tick={tick} axisLine={line} tickLine={line} tickSize={5} tickMargin={6} interval={0} />
        <YAxis type="number" dataKey="y" domain={[38249, 52049]} ticks={yTicks} allowDataOverflow width={76} tick={tick} axisLine={line} tickLine={line} tickSize={5} tickMargin={6} interval={0} />
        <ReferenceLine y={52049} stroke="#222" strokeWidth={1.2} />
        <Legend
          layout="vertical"
          align="center"
          verticalAlign="middle"
          content={() => <LegendBox />}
          wrapperStyle={{ left: 84, top: 24, width: 161, height: 101 }}
        />
        <Scatter name="other" data={otherData} isAnimationActive={false} shape={dot("#808080", 7)} />
        <Scatter name="Macrophage" data={macrophageData} isAnimationActive={false} shape={dot("#ffa500", 6)} />
        <Scatter name="B Cell" data={bCellData} isAnimationActive={false} shape={dot("#0000ff", 6)} />
        <Scatter name="T Cell" data={tCellData} isAnimationActive={false} shape={dot("#ff0000", 6)} />
      </ScatterChart>
    </div>
  );
}
